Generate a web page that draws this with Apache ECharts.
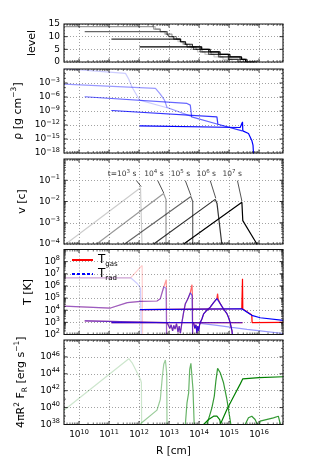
<!DOCTYPE html>
<html><head><meta charset="utf-8"><title>Shock profiles</title>
<script src="https://cdn.jsdelivr.net/npm/echarts@6.0.0/dist/echarts.min.js"></script>
<style>html,body{margin:0;padding:0;background:#fff;}#chart{width:315px;height:472px;}</style>
</head><body><div id="chart"></div>
<script>
// ---------------- DATA (x = log10 R [cm]) ----------------
const times = ['1e3', '1e4', '1e5', '1e6', '1e7'];
const alphas = [0.2, 0.4, 0.6, 0.8, 1.0];

// Panel 1: refinement level (step)
const lvl_t1e3 = [[9.5,15],[12.45,14],[12.55,13],[12.7,12],[12.85,11],[13.0,10],[13.15,9],[13.3,8],[13.45,7],[13.6,6],[13.75,5],[13.95,4],[14.2,3],[14.5,2],[14.8,1],[15.1,0],[15.4,0]];
const lvl_t1e4 = [[9.5,14],[12.49,13],[12.71,12],[12.9,11],[13.1,10],[13.25,9],[13.4,8],[13.55,7],[13.7,6],[13.9,5],[14.1,4],[14.4,3],[14.7,2],[15.0,1],[15.3,0],[15.5,0]];
const lvl_t1e5 = [[10.19,12],[12.94,11],[13.0,10],[13.16,9],[13.38,8],[13.5,7],[13.6,6],[13.82,5],[14.04,4],[14.32,3],[14.65,2],[14.98,1],[15.37,0],[15.6,0]];
const lvl_t1e6 = [[11.08,9],[13.38,8],[13.55,7],[13.78,6],[14.04,5],[14.32,4],[14.65,3],[14.98,2],[15.37,1],[15.6,0],[15.85,0]];
const lvl_t1e7 = [[12.02,6],[14.09,5],[14.37,4],[14.7,3],[15.03,2],[15.42,1],[15.55,0],[15.93,0]];

// Panel 2: log10 density [g cm^-3]
const rho_t1e3 = [[9.5,0.05],[10.37,-0.36],[11.55,-0.93],[11.66,-2.2],[11.77,-3.9],[11.94,-5.8],[12.02,-6.67],[12.935,-8.3]];
const rho_t1e4 = [[9.5,-3.25],[12.55,-4.16],[12.71,-5.38],[12.85,-6.67],[12.935,-8.24],[13.77,-10.2]];
const rho_t1e5 = [[10.19,-5.95],[13.6,-7.38],[13.71,-7.74],[13.744,-7.96],[13.755,-10.25],[14.63,-11.83]];
const rho_t1e6 = [[11.08,-8.89],[14.597,-10.25],[14.63,-11.83],[15.44,-13.26]];
const rho_t1e7 = [[12.02,-12.19],[15.372,-12.54],[15.43,-12.6],[15.45,-11.33],[15.46,-13.26],[15.65,-13.83],[15.76,-15.3],[15.8,-16.3],[15.82,-18.5]];

// Panel 3: log10 velocity [c]
const vel_t1e3 = [[9.56,-4],[12.05,-1.35],[12.1,-1.37],[12.11,-4.5]];
const vel_t1e4 = [[10.59,-4],[12.82,-1.62],[12.88,-1.68],[12.9,-1.9],[12.9,-4.5]];
const vel_t1e5 = [[11.52,-4],[13.73,-1.77],[13.77,-1.82],[13.79,-2.0],[13.79,-4.5]];
const vel_t1e6 = [[12.49,-4],[14.54,-1.9],[14.6,-2.09],[14.76,-4],[14.78,-4.5]];
const vel_t1e7 = [[13.49,-4],[15.43,-2.04],[15.46,-2.9],[15.93,-4],[15.95,-4.3]];
// annotations
const annLogR = [11.435, 12.498, 13.379, 14.243, 15.106];
const annLogV = [-0.706, -0.706, -0.706, -0.706, -0.706];
const annText = ['{b|t=10}{s|3}{b| s}', '{b|10}{s|4}{b| s}', '{b|10}{s|5}{b| s}', '{b|10}{s|6}{b| s}', '{b|10}{s|7}{b| s}'];
const lead_t1e3 = [[11.917,-1.02],[12.073,-1.30]];
const lead_t1e4 = [[12.625,-1.02],[12.824,-1.60]];
const lead_t1e5 = [[13.545,-1.02],[13.73,-1.72]];
const lead_t1e6 = [[14.375,-1.02],[14.56,-1.85]];
const lead_t1e7 = [[15.282,-1.02],[15.43,-1.98]];

// Panel 4: log10 temperature [K]
const Tgas_t1e3 = [[9.5,6.67],[11.72,6.67],[12.105,7.69],[12.12,1.5]];
const Trad_t1e3 = [[9.5,6.67],[11.72,6.67],[11.94,6.2],[12.05,5.83],[12.08,1.5]];
const Tgas_t1e4 = [[9.5,4.33],[11.05,4.18],[11.61,4.62],[12.05,4.73],[12.6,4.76],[12.71,4.95],[12.825,5.91],[12.88,6.05],[12.91,6.51],[12.925,1.5]];
const Trad_t1e4 = [[9.5,4.33],[11.05,4.18],[11.61,4.62],[12.05,4.73],[12.6,4.76],[12.71,4.95],[12.825,5.91],[12.88,6.04],[12.9,5.8],[12.92,1.5]];
const Tgas_t1e4_csm = [[13.85,2.98],[15.45,2.98]];
const Trad_t1e4_csm = [[13.85,2.98],[14.04,2.92],[14.6,2.75],[15.1,2.58],[15.6,2.42],[16.04,2.3],[16.81,2.08]];
const Tgas_t1e5 = [[10.19,3.12],[12.935,2.98],[12.99,2.85],[13.03,2.5],[13.07,2.8],[13.12,2.3],[13.16,2.75],[13.2,2.45],[13.25,2.9],[13.3,2.2],[13.34,2.7],[13.38,2.1],[13.43,2.98],[13.49,3.86],[13.545,4.54],[13.63,4.95],[13.71,5.44],[13.744,5.5],[13.766,6.1],[13.78,5.3],[13.79,1.5]];
const Trad_t1e5 = [[10.19,3.12],[12.935,2.98],[12.99,2.85],[13.03,2.5],[13.07,2.8],[13.12,2.3],[13.16,2.75],[13.2,2.45],[13.25,2.9],[13.3,2.2],[13.34,2.7],[13.38,2.1],[13.43,2.98],[13.49,3.86],[13.545,4.54],[13.63,4.95],[13.71,5.44],[13.744,5.5],[13.77,5.2],[13.79,1.5]];
const Tgas_t1e5_csm = [[13.8,2.98],[15.45,2.98]];
const Trad_t1e5_csm = [[13.8,2.98],[15.45,2.98]];
const Tgas_t1e6 = [[11.08,2.98],[13.82,2.98],[13.86,2.5],[13.9,2.8],[13.93,2.1],[13.96,2.7],[13.99,2.3],[14.02,2.8],[14.043,2.98],[14.1,3.3],[14.154,3.7],[14.265,4.0],[14.375,4.25],[14.486,4.62],[14.597,4.95],[14.62,5.36],[14.64,4.9],[14.708,4.54],[14.818,4.1],[14.93,3.72],[14.985,3.4],[15.04,2.98],[15.062,2.7],[15.1,2.3],[15.13,1.5]];
const Trad_t1e6 = [[11.08,2.98],[13.82,2.98],[13.86,2.5],[13.9,2.8],[13.93,2.1],[13.96,2.7],[13.99,2.3],[14.02,2.8],[14.043,2.98],[14.1,3.3],[14.154,3.7],[14.265,4.0],[14.375,4.25],[14.486,4.62],[14.597,4.95],[14.62,4.93],[14.64,4.85],[14.708,4.54],[14.818,4.1],[14.93,3.72],[14.985,3.4],[15.04,2.98],[15.062,2.7],[15.1,2.3],[15.13,1.5]];
const Tgas_t1e7 = [[12.03,4.05],[15.427,4.12],[15.45,6.59],[15.46,4.1],[15.76,3.6],[15.77,2.98],[16.81,3.0]];
const Trad_t1e7 = [[12.03,4.05],[15.427,4.12],[15.46,4.1],[15.76,3.58],[16.04,3.38],[16.81,3.17]];

// Panel 5: log10 4 pi R^2 F_R [erg s^-1]
const F_t1e3 = [[9.5,39.69],[11.66,45.79],[11.77,45.3],[11.94,44.12],[12.05,43.33],[12.08,42.94],[12.09,37]];
const F_t1e4 = [[12.03,37.5],[12.06,38.11],[12.6,39.7],[12.71,40.96],[12.78,43.73],[12.825,45.12],[12.88,45.63],[12.91,45.51],[12.925,44.0],[12.935,37]];
const F_t1e5 = [[13.52,37],[13.545,38.0],[13.6,40.57],[13.655,41.75],[13.69,44.52],[13.73,45.23],[13.78,45.11],[13.8,42.15],[13.84,38.0],[13.85,37]];
const F_t1e6 = [[14.24,37.5],[14.265,38.0],[14.43,39.97],[14.51,41.36],[14.564,43.2],[14.62,44.64],[14.708,44.12],[14.818,42.94],[14.93,40.96],[15.018,38.98],[15.062,38.0],[15.08,37]];
const F_t1e6_b = [[15.52,37.5],[15.538,38.0],[15.649,38.79],[15.76,38.98],[15.87,38.59],[15.948,38.0],[15.96,37.5]];
const F_t1e6_c = [[15.99,37.5],[16.036,38.39],[16.48,38.79],[16.645,38.98],[16.7,38.2],[16.71,37.5]];
const F_t1e7 = [[14.13,37.5],[14.154,38.0],[14.32,38.59],[14.486,38.98],[14.597,39.0],[14.69,38.59],[14.72,38.1],[14.93,39.78],[15.15,41.28],[15.372,42.78],[15.46,43.41],[15.483,43.45],[16.0,43.55],[16.81,43.65]];

// Tick values
const xMajor = [10, 11, 12, 13, 14, 15, 16];
const yMajorTicks = [[5, 10], [-15, -12, -9, -6, -3], [-3, -2, -1], [3, 4, 5, 6, 7, 8], [40, 42, 44, 46]];

// ---------------- LAYOUT / STYLE ----------------
const F = 'DejaVu Sans';
const X_MIN = 9.5, X_MAX = 16.8;
const LW = 1.2;
const gridTop = [24, 69, 159, 249.5, 340];
const gridH = [38, 84, 85, 85, 84.5];
const yRange = [[0, 15, 5], [-18, 0, 3], [-4, 0, 1], [2, 9, 1], [38, 48, 2]];
const yNames = ['{a|level}', '{a|\u03c1 [g cm}{s|\u22123}{a|]}', '{a|v [c]}', '{a|T [K]}', '{a|4\u03c0R}{s|2}{a| F}{d|R}{a| [erg s}{s|\u22121}{a|]}'];
const yNameGap = [17, 26, 27, 26, 31];

const L10 = Math.log10;
const xMinor = [];
for (let n = 9; n <= 16; n++) for (let k = 2; k <= 9; k++) { const v = n + L10(k); if (v > X_MIN && v < X_MAX) xMinor.push(v); }
const yMinorTicks = [[], [], [], [], []];
for (let n = -17; n <= -1; n++) if (n % 3 !== 0) yMinorTicks[1].push(n);
for (let n = -4; n <= -1; n++) for (let k = 2; k <= 9; k++) yMinorTicks[2].push(n + L10(k));
for (let n = 2; n <= 8; n++) for (let k = 2; k <= 9; k++) yMinorTicks[3].push(n + L10(k));
[39, 41, 43, 45, 47].forEach(v => yMinorTicks[4].push(v));

const supTxt = v => (v < 0 ? '\u2212' : '') + Math.abs(Math.round(v));
const logFmt = v => '{b|10}{s|' + supTxt(v) + '}';
const tickRich = {
  b: { fontSize: 9, lineHeight: 13, fontFamily: F, color: '#000' },
  s: { fontSize: 6.5, lineHeight: 8, verticalAlign: 'top', fontFamily: F, color: '#000' }
};
const nameRich = {
  a: { fontSize: 11, lineHeight: 16, fontFamily: F, color: '#000' },
  s: { fontSize: 7.5, lineHeight: 9, verticalAlign: 'top', fontFamily: F, color: '#000' },
  d: { fontSize: 7.5, lineHeight: 9, verticalAlign: 'bottom', fontFamily: F, color: '#000' }
};
const gridLineStyle = { color: '#8a8a8a', width: 0.8, type: [1, 2] };

const grids = gridTop.map((t, i) => ({ left: 64, top: t, width: 219, height: gridH[i], containLabel: false }));

const xAxes = gridTop.map((t, i) => ({
  type: 'value', gridIndex: i, min: X_MIN, max: X_MAX, splitNumber: 7,
  axisLine: { show: false }, axisTick: { show: false },
  axisLabel: i === 4 ? { show: true, formatter: logFmt, rich: tickRich, margin: 4, showMinLabel: false, showMaxLabel: false } : { show: false },
  splitLine: { show: true, lineStyle: gridLineStyle },
  name: i === 4 ? 'R [cm]' : '', nameLocation: 'middle', nameGap: 21,
  nameTextStyle: { fontSize: 10.5, fontFamily: F, color: '#000' }
}));

const yAxes = yRange.map((r, i) => ({
  type: 'value', gridIndex: i, min: r[0], max: r[1], interval: r[2],
  axisLine: { show: false }, axisTick: { show: false },
  axisLabel: {
    show: true, margin: 4, rich: tickRich,
    formatter: i === 0 ? (v => '{b|' + v + '}') : logFmt,
    showMinLabel: true, showMaxLabel: i === 0
  },
  splitLine: { show: true, lineStyle: gridLineStyle },
  name: yNames[i], nameLocation: 'middle', nameGap: yNameGap[i], nameRotate: 90,
  nameTextStyle: { fontSize: 11, fontFamily: F, color: '#000', rich: nameRich }
}));

function ln(gi, data, color, alpha, extra) {
  return Object.assign({
    type: 'line', xAxisIndex: gi, yAxisIndex: gi, data: data, symbol: 'none', showSymbol: false,
    silent: true, animation: false, z: 2,
    lineStyle: { color: color, width: LW, opacity: alpha }, itemStyle: { color: color }
  }, extra || {});
}

function frame(gi) {
  const yMin = yRange[gi][0];
  return {
    type: 'custom', xAxisIndex: gi, yAxisIndex: gi, silent: true, z: 10, clip: false, animation: false,
    data: [[X_MIN, yMin]],
    renderItem: function (params, api) {
      const cs = params.coordSys;
      const L = cs.x, R = cs.x + cs.width, T = cs.y, B = cs.y + cs.height;
      const ch = [];
      const seg = (x1, y1, x2, y2, w) => ch.push({ type: 'line', shape: { x1, y1, x2, y2 }, style: { stroke: '#000', lineWidth: w } });
      xMajor.forEach(v => { const x = api.coord([v, yMin])[0]; seg(x, B, x, B - 3.5, 0.8); seg(x, T, x, T + 3.5, 0.8); });
      xMinor.forEach(v => { const x = api.coord([v, yMin])[0]; seg(x, B, x, B - 2, 0.6); seg(x, T, x, T + 2, 0.6); });
      yMajorTicks[gi].forEach(v => { const y = api.coord([X_MIN, v])[1]; seg(L, y, L + 3.5, y, 0.8); seg(R, y, R - 3.5, y, 0.8); });
      yMinorTicks[gi].forEach(v => { const y = api.coord([X_MIN, v])[1]; seg(L, y, L + 2, y, 0.6); seg(R, y, R - 2, y, 0.6); });
      ch.push({ type: 'rect', shape: { x: L, y: T, width: cs.width, height: cs.height }, style: { fill: 'none', stroke: '#111', lineWidth: 1.1 } });
      return { type: 'group', children: ch };
    }
  };
}

const series = [];
const lvls = [lvl_t1e3, lvl_t1e4, lvl_t1e5, lvl_t1e6, lvl_t1e7];
lvls.forEach((d, i) => series.push(ln(0, d, '#000', alphas[i], { step: 'end' })));
const rhos = [rho_t1e3, rho_t1e4, rho_t1e5, rho_t1e6, rho_t1e7];
rhos.forEach((d, i) => series.push(ln(1, d, '#0000ff', alphas[i])));
const vels = [vel_t1e3, vel_t1e4, vel_t1e5, vel_t1e6, vel_t1e7];
vels.forEach((d, i) => series.push(ln(2, d, '#000', alphas[i])));
[lead_t1e3, lead_t1e4, lead_t1e5, lead_t1e6, lead_t1e7].forEach(d => series.push(ln(2, d, '#000', 0.85, { lineStyle: { color: '#000', width: 0.8, opacity: 0.85 } })));
series.push({
  type: 'scatter', xAxisIndex: 2, yAxisIndex: 2, silent: true, animation: false, z: 5,
  data: annLogR.map((r, i) => [r, annLogV[i]]), symbolSize: 1, itemStyle: { color: 'rgba(0,0,0,0)' },
  label: { show: true, position: 'inside', color: '#000', formatter: p => annText[p.dataIndex],
    rich: { b: { fontSize: 7.5, lineHeight: 11, fontFamily: F, color: '#000' }, s: { fontSize: 5.5, lineHeight: 6, verticalAlign: 'top', fontFamily: F, color: '#000' } } }
});
const Tpairs = [[Tgas_t1e3, Trad_t1e3], [Tgas_t1e4, Trad_t1e4], [Tgas_t1e5, Trad_t1e5], [Tgas_t1e6, Trad_t1e6], [Tgas_t1e7, Trad_t1e7]];
const Tcsm = { 1: [Tgas_t1e4_csm, Trad_t1e4_csm], 2: [Tgas_t1e5_csm, Trad_t1e5_csm] };
Tpairs.forEach((p, i) => {
  series.push(ln(3, p[0], '#ff0000', alphas[i]));
  if (Tcsm[i]) series.push(ln(3, Tcsm[i][0], '#ff0000', alphas[i]));
  series.push(ln(3, p[1], '#0000ff', alphas[i]));
  if (Tcsm[i]) series.push(ln(3, Tcsm[i][1], '#0000ff', alphas[i]));
});
series.push({ type: 'line', name: 'Tgas', xAxisIndex: 3, yAxisIndex: 3, data: [], symbol: 'none', lineStyle: { color: '#ff0000', width: 1.2 }, itemStyle: { color: '#ff0000' } });
series.push({ type: 'line', name: 'Trad', xAxisIndex: 3, yAxisIndex: 3, data: [], symbol: 'none', lineStyle: { color: '#0000ff', width: 1.2, type: [3, 2] }, itemStyle: { color: '#0000ff' } });
const Fs = [[F_t1e3], [F_t1e4], [F_t1e5], [F_t1e6, F_t1e6_b, F_t1e6_c], [F_t1e7]];
Fs.forEach((arr, i) => arr.forEach(d => series.push(ln(4, d, '#008000', alphas[i]))));
for (let g = 0; g < 5; g++) series.push(frame(g));

const option = {
  animation: false,
  backgroundColor: '#fff',
  grid: grids, xAxis: xAxes, yAxis: yAxes,
  legend: {
    show: true, left: 71, top: 254, orient: 'vertical', itemWidth: 21, itemHeight: 10, itemGap: 0, padding: 0,
    selectedMode: false, itemStyle: { opacity: 0 }, data: ['Tgas', 'Trad'],
    formatter: n => n === 'Tgas' ? '{t|T}{u|gas}' : '{t|T}{u|rad}',
    textStyle: { fontFamily: F, color: '#000', rich: {
      t: { fontSize: 12, lineHeight: 16, fontFamily: F, color: '#000' },
      u: { fontSize: 7, lineHeight: 8, verticalAlign: 'bottom', fontFamily: F, color: '#000' } } }
  },
  series: series
};
const chart = echarts.init(document.getElementById('chart'), null, { renderer: 'canvas' });
chart.setOption(option);
</script></body></html>
